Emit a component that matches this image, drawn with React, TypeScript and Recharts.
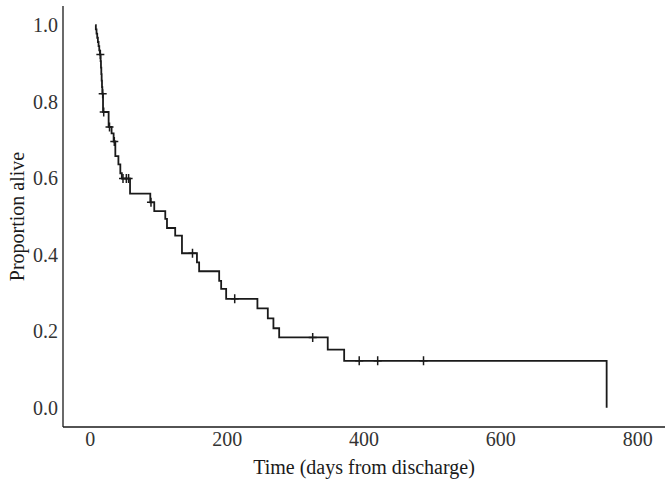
import React from "react";
import {
  ComposedChart,
  Line,
  Scatter,
  XAxis,
  YAxis,
  Label,
} from "recharts";

// Kaplan-Meier steps: event time (days) and survival after that event
const eventTimes = [
  7, 8, 9, 10, 11, 12, 13, 14, 15, 15.5, 16, 16.5, 17, 17.5, 18.5, 26.7, 31,
  34, 36.5, 41, 43.8, 46, 58, 87.6, 93.4, 109.5, 112, 124, 133.9, 155.8, 159,
  188.3, 191.2, 198.5, 244.2, 259.4, 267.6, 276, 347, 371, 754.7,
];
const survival = [
  1.0, 0.989, 0.978, 0.967, 0.956, 0.945, 0.934, 0.923, 0.906, 0.889, 0.872,
  0.855, 0.838, 0.821, 0.773, 0.734, 0.717, 0.696, 0.658, 0.636, 0.613, 0.599,
  0.56, 0.537, 0.514, 0.494, 0.47, 0.45, 0.404, 0.38, 0.357, 0.332, 0.311,
  0.285, 0.26, 0.234, 0.208, 0.184, 0.152, 0.123, 0.0,
];
// censored observations (days)
const censorTimes = [
  14.6, 18, 19.5, 28, 35, 47.7, 52.6, 55.9, 88.6, 149.3, 211, 325, 393, 420, 487,
];

const xTicks = [0, 200, 400, 600, 800];
const yTicks = [0, 0.2, 0.4, 0.6, 0.8, 1.0];

const curve = eventTimes.map((t, i) => ({ t, s: survival[i] }));

const survAt = (t: number) => {
  let s = 1;
  for (let i = 0; i < eventTimes.length; i++) {
    if (eventTimes[i] <= t) s = survival[i];
  }
  return s;
};
const censored = censorTimes.map((t) => ({ t, s: survAt(t) }));

const FONT = "'Liberation Serif', 'Times New Roman', serif";
const INK = "#1a1a1a";

const CensorMark = (props: any) => {
  const { cx, cy } = props;
  if (cx == null || cy == null) return null;
  return (
    <path
      d={`M${cx - 4},${cy}h8M${cx},${cy - 4.5}v9`}
      stroke={INK}
      strokeWidth={1.5}
      fill="none"
    />
  );
};

export default function App() {
  return (
    <div style={{ position: "absolute", left: 0, top: 0 }}>
      <ComposedChart
        width={669}
        height={484}
        margin={{ top: 6, right: 4, bottom: 0, left: 0 }}
      >
        <XAxis
          dataKey="t"
          type="number"
          domain={[-40, 840]}
          ticks={xTicks}
          tickLine={false}
          tickSize={0}
          tickMargin={5}
          height={57}
          axisLine={{ stroke: INK, strokeWidth: 1.3 }}
          tick={{ fill: "#333", fontSize: 20, fontFamily: FONT }}
        >
          <Label
            value="Time (days from discharge)"
            position="insideBottom"
            offset={10}
            style={{ fill: INK, fontSize: 20, fontFamily: FONT }}
          />
        </XAxis>
        <YAxis
          dataKey="s"
          type="number"
          domain={[-0.05, 1.05]}
          ticks={yTicks}
          tickFormatter={(v: number) => v.toFixed(1)}
          tickLine={false}
          tickSize={0}
          tickMargin={5}
          width={63}
          axisLine={{ stroke: INK, strokeWidth: 1.3 }}
          tick={{ fill: "#333", fontSize: 20, fontFamily: FONT }}
        >
          <Label
            value="Proportion alive"
            angle={-90}
            position="insideLeft"
            offset={17}
            style={{ fill: INK, fontSize: 20, fontFamily: FONT, textAnchor: "middle" }}
          />
        </YAxis>
        <Line
          data={curve}
          dataKey="s"
          type="stepAfter"
          stroke={INK}
          strokeWidth={1.8}
          dot={false}
          activeDot={false}
          isAnimationActive={false}
        />
        <Scatter
          data={censored}
          dataKey="s"
          shape={CensorMark}
          isAnimationActive={false}
        />
      </ComposedChart>
    </div>
  );
}
